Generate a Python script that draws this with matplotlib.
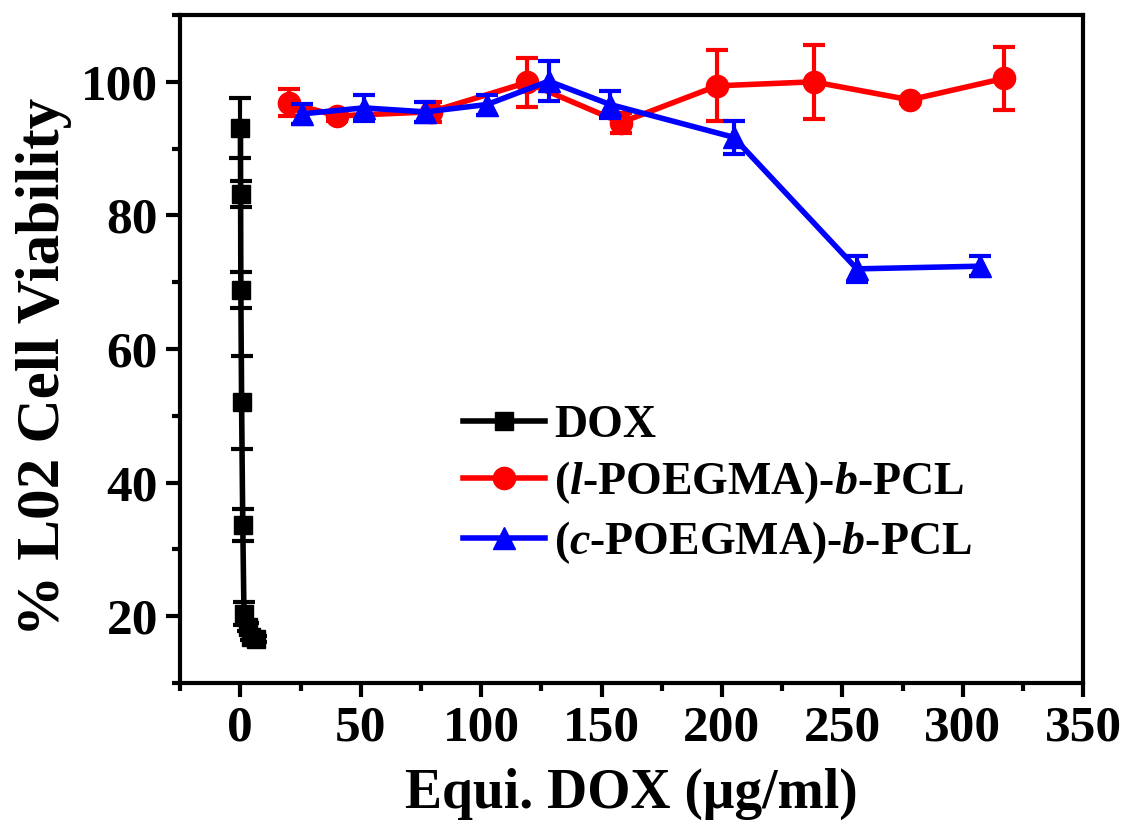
import matplotlib
matplotlib.use("Agg")
import matplotlib.pyplot as plt
from matplotlib.ticker import MultipleLocator

plt.rcParams['font.family'] = ['Liberation Serif', 'DejaVu Serif']
plt.rcParams['font.weight'] = 'bold'
plt.rcParams['mathtext.fontset'] = 'custom'
plt.rcParams['mathtext.rm'] = 'Liberation Serif:bold'
plt.rcParams['mathtext.it'] = 'Liberation Serif:italic:bold'
plt.rcParams['mathtext.bf'] = 'Liberation Serif:bold'

# DOX (free drug)
dox_x = [0.05, 0.1, 0.2, 0.5, 1.0, 1.5, 3.0, 4.5, 6.5]
dox_y = [93.1, 83.2, 68.8, 52.0, 33.6, 20.4, 18.4, 16.9, 16.6]
dox_err = [4.5, 2.0, 2.7, 7.0, 2.4, 1.7, 0.6, 0.5, 0.5]

# (l-POEGMA)-b-PCL
lin_x = [20, 40, 79, 119, 158, 198, 238, 278, 317]
lin_y = [96.9, 94.9, 95.5, 99.9, 93.9, 99.4, 100.0, 97.3, 100.5]
lin_err = [2.0, 0.8, 1.5, 3.6, 1.5, 5.3, 5.5, 0.5, 4.7]

# (c-POEGMA)-b-PCL
cyc_x = [25.6, 51.2, 76.8, 102.4, 128, 153.6, 204.8, 256, 307.2]
cyc_y = [95.2, 96.1, 95.5, 96.6, 100.1, 96.6, 91.7, 72.0, 72.4]
cyc_err = [1.5, 2.0, 1.5, 1.5, 3.0, 2.0, 2.5, 2.0, 1.5]

series = [
    (dox_x, dox_y, dox_err, 'black', 's', 13, 'DOX'),
    (lin_x, lin_y, lin_err, 'red', 'o', 16, r'($\it{l}$-POEGMA)-$\it{b}$-PCL'),
    (cyc_x, cyc_y, cyc_err, 'blue', '^', 16, r'($\it{c}$-POEGMA)-$\it{b}$-PCL'),
]

fig = plt.figure(figsize=(11.26, 8.34), dpi=100)
ax = fig.add_axes([0.16, 0.181, 0.802, 0.801])

handles = []
for x, y, err, c, m, ms, lab in series:
    ax.errorbar(x, y, yerr=err, fmt='none', ecolor=c, elinewidth=3,
                capsize=8, capthick=3)
    h, = ax.plot(x, y, color=c, marker=m, ms=ms, lw=4, label=lab)
    handles.append(h)

ax.set_xlim(-25, 350)
ax.set_ylim(10, 110)
ax.xaxis.set_major_locator(MultipleLocator(50))
ax.xaxis.set_minor_locator(MultipleLocator(25))
ax.yaxis.set_minor_locator(MultipleLocator(10))
ax.set_yticks([20, 40, 60, 80, 100])

for s in ax.spines.values():
    s.set_linewidth(3)
ax.tick_params(which='both', direction='out', width=3, top=False, right=False)
ax.tick_params(which='major', length=10, labelsize=37, pad=6)
ax.tick_params(which='minor', length=6)

ax.set_xlabel('Equi. DOX (μg/ml)', fontsize=40, fontweight='bold', labelpad=12)
ax.set_ylabel('% L02 Cell Viability', fontsize=44, fontweight='bold')
ax.yaxis.set_label_coords(-0.12, 0.473)

ax.legend(handles=handles, loc='upper left', bbox_to_anchor=(0.411, 0.515),
          bbox_transform=fig.transFigure, frameon=False, borderpad=0,
          borderaxespad=0, fontsize=33, handlelength=1.8, handletextpad=0.2,
          labelspacing=0.28)

fig.savefig('out.png', dpi=100)
